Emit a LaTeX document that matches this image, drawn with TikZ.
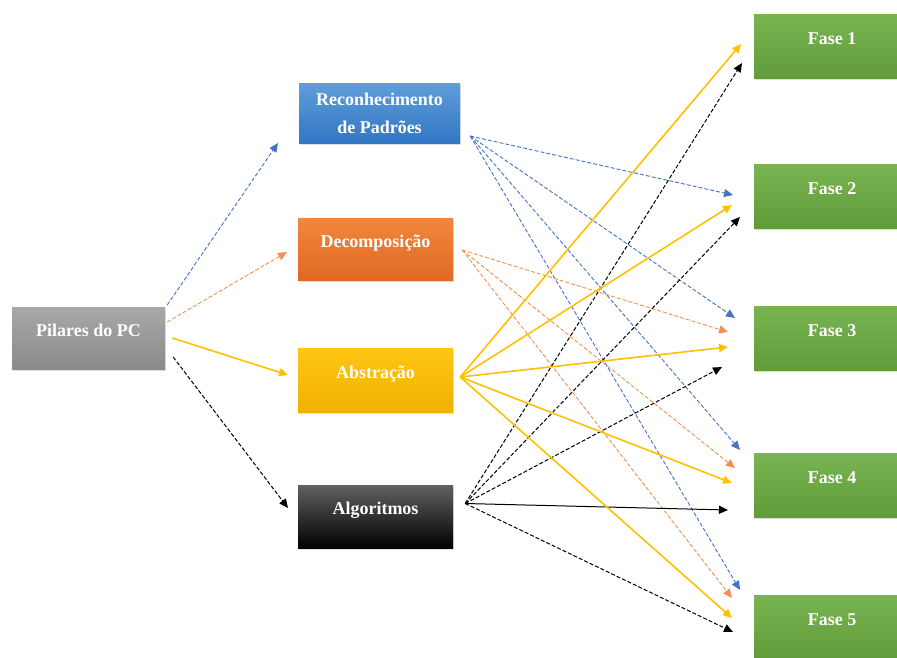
\documentclass[tikz,border=0pt]{standalone}
\usepackage{fontspec}
\setmainfont{Liberation Serif}
\usetikzlibrary{arrows.meta,shadows}
\definecolor{pcGray}{RGB}{168,168,168}
\definecolor{pcGrayD}{RGB}{138,138,138}
\definecolor{pcBlue}{RGB}{95,158,218}
\definecolor{pcBlueD}{RGB}{50,118,196}
\definecolor{pcOrange}{RGB}{242,135,62}
\definecolor{pcOrangeD}{RGB}{224,104,34}
\definecolor{pcYellow}{RGB}{255,198,20}
\definecolor{pcYellowD}{RGB}{242,176,0}
\definecolor{pcGreen}{RGB}{120,180,80}
\definecolor{pcGreenD}{RGB}{96,156,58}
\definecolor{lnBlue}{RGB}{68,114,196}
\definecolor{lnOrange}{RGB}{237,125,49}
\definecolor{lnYellow}{RGB}{255,192,0}

\tikzset{
  box/.style={draw=none, text=white, align=center, inner sep=0pt,
    font=\bfseries\fontsize{18}{28}\selectfont,
    drop shadow={opacity=0.25, shadow xshift=1pt, shadow yshift=-2pt}},
  lift/.style={text height=13pt, text depth=17pt},
  fase/.style={box, lift, top color=pcGreen, bottom color=pcGreenD,
    minimum width=156pt, minimum height=64pt},
  arrtip/.style={-{Triangle[length=9pt,width=8pt]}},
  bluearr/.style={arrtip, lnBlue, line width=0.9pt, dash pattern=on 4pt off 2pt},
  orangearr/.style={arrtip, lnOrange!85, line width=0.9pt, dash pattern=on 4pt off 2pt},
  yellowarr/.style={arrtip, lnYellow, line width=1.6pt},
  blackarr/.style={arrtip, black, line width=1pt, dash pattern=on 4pt off 2pt}
}

\begin{document}
\begin{tikzpicture}[x=1pt, y=-1pt]
  \useasboundingbox (0,0) rectangle (897,657);

  % boxes
  \node[box, lift, top color=pcGray, bottom color=pcGrayD,
    minimum width=153pt, minimum height=62pt] (pil) at (88.5,338) {Pilares do PC};
  \node[box, top color=pcBlue, bottom color=pcBlueD,
    minimum width=161pt, minimum height=60pt] (rec) at (379.5,113) {Reconhecimento\\de Padrões};
  \node[box, lift, top color=pcOrange, bottom color=pcOrangeD,
    minimum width=155pt, minimum height=62pt] (dec) at (375.5,249) {Decomposição};
  \node[box, lift, top color=pcYellow, bottom color=pcYellowD,
    minimum width=155pt, minimum height=64pt] (abs) at (375.5,380) {Abstração};
  \node[box, lift, top color=black!62, middle color=black!95, bottom color=black,
    minimum width=155pt, minimum height=63pt] (alg) at (375.5,516.5) {Algoritmos};

  \node[fase] (f1) at (832,46) {Fase 1};
  \node[fase] (f2) at (832,196) {Fase 2};
  \node[fase] (f3) at (832,338) {Fase 3};
  \node[fase] (f4) at (832,485) {Fase 4};
  \node[fase] (f5) at (832,627) {Fase 5};

  % where the arrows leave the boxes
  \coordinate (pil-b) at ([shift={(2,-33)}]pil.east);
  \coordinate (pil-o) at ([shift={(2,-16)}]pil.east);
  \coordinate (pil-y) at ([shift={(7,0)}]pil.east);
  \coordinate (pil-k) at ([shift={(8,19)}]pil.east);
  \coordinate (rec-o) at ([shift={(10,23)}]rec.east);
  \coordinate (dec-o) at ([shift={(9,1)}]dec.east);
  \coordinate (abs-o) at ([shift={(7,-3)}]abs.east);
  \coordinate (alg-o) at ([shift={(12,-13)}]alg.east);

  % arrow tips in front of the boxes
  \foreach \n/\px/\py in {tR/278/143, tD/287/252, tA/288/375, tL/288/508,
      b2/733/195, b3/735/318, b4/740/450, b5/740/590,
      o3/728/332, o4/735/468, o5/732/598,
      y1/741/44, y2/732/205, y3/728/347, y4/732/483, y5/732/618,
      k1/742/63, k2/740/217, k3/722/367, k4/728/510, k5/733/632}
    \coordinate (\n) at (\px,\py);

  \draw[bluearr] (pil-b) -- (tR);
  \draw[orangearr] (pil-o) -- (tD);
  \draw[yellowarr] (pil-y) -- (tA);
  \draw[blackarr] (pil-k) -- (tL);

  \foreach \t in {b2,b3,b4,b5} \draw[bluearr] (rec-o) -- (\t);
  \foreach \t in {o3,o4,o5} \draw[orangearr] (dec-o) -- (\t);
  \foreach \t in {k1,k2,k3,k5} \draw[blackarr] (alg-o) -- (\t);
  \draw[blackarr, solid] (alg-o) -- (k4);
  \foreach \t in {y1,y2,y3,y4,y5} \draw[yellowarr] (abs-o) -- (\t);
\end{tikzpicture}
\end{document}
